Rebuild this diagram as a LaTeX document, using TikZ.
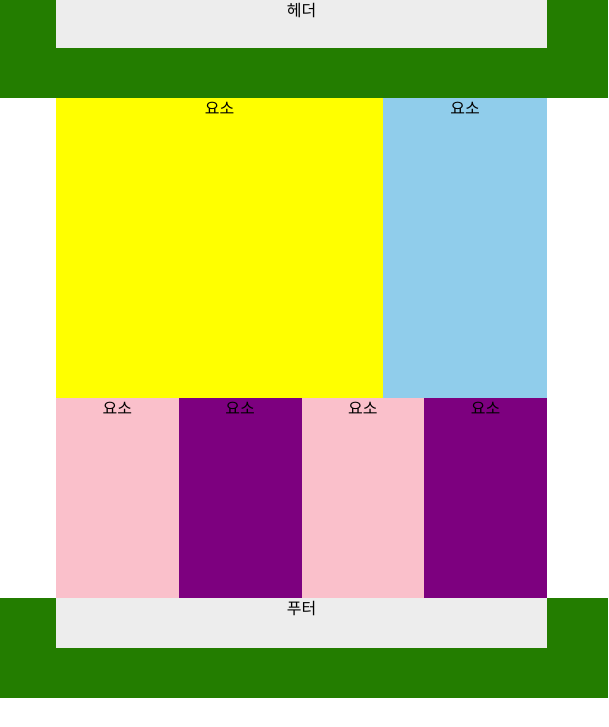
\documentclass[tikz,border=0pt]{standalone}
\usepackage{fontspec}
\newfontfamily\hangul{Noto Sans CJK KR}
\usetikzlibrary{positioning}
\definecolor{verde}{HTML}{237D00}
\definecolor{gris}{HTML}{EDEDED}
\definecolor{amarillo}{HTML}{FFFF00}
\definecolor{celeste}{HTML}{90CDEB}
\definecolor{rosa}{HTML}{FAC0CB}
\definecolor{morado}{HTML}{7D007F}

\begin{document}
\begin{tikzpicture}[x=1pt, y=-1pt, font=\hangul\fontsize{16}{19}\selectfont,
		caja/.style={inner sep=0pt, outer sep=0pt, anchor=north west},
		etiqueta/.style={anchor=base, inner sep=0pt, yshift=-16.5pt}]
	\useasboundingbox[fill=white] (0,0) rectangle (608,727);
	% cabecera
	\node[caja, fill=verde, minimum width=608pt, minimum height=98pt] (cabecera) at (0,0) {};
	\node[caja, fill=gris, minimum width=491pt, minimum height=48pt] (encabezado) at (56,0) {};
	\node[etiqueta] (textocabecera) at (encabezado.north) {헤더};
	% fila superior
	\node[caja, fill=amarillo, minimum width=327pt, minimum height=300pt] (principal) at (56,98) {};
	\node[etiqueta] (textoprincipal) at (principal.north) {요소};
	\node[caja, fill=celeste, minimum width=164pt, minimum height=300pt] (lateral) at (383,98) {};
	\node[etiqueta] (textolateral) at (lateral.north) {요소};
	% fila inferior
	\foreach \i/\c in {0/rosa, 1/morado, 2/rosa, 3/morado} {
		\node[caja, fill=\c, minimum width=122.75pt, minimum height=200pt] (celda\i) at (56+\i*122.75, 398) {};
		\node[etiqueta] (textocelda\i) at (celda\i.north) {요소};
	}
	% pie
	\node[caja, fill=verde, minimum width=608pt, minimum height=100pt] (pie) at (0,598) {};
	\node[caja, fill=gris, minimum width=491pt, minimum height=50pt] (piecaja) at (56,598) {};
	\node[etiqueta] (textopie) at (piecaja.north) {푸터};
\end{tikzpicture}
\end{document}
